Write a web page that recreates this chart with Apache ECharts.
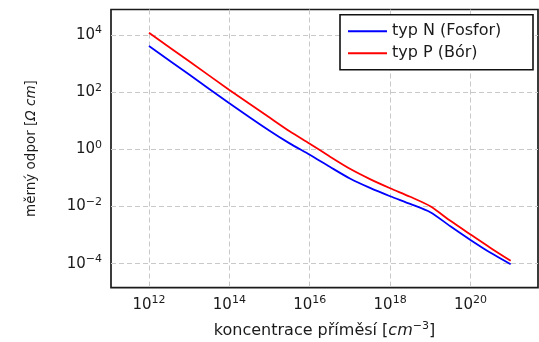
<!DOCTYPE html>
<html>
<head>
<meta charset="utf-8">
<script src="https://cdn.jsdelivr.net/npm/echarts@6/dist/echarts.min.js"></script>
<style>
html,body{margin:0;padding:0;background:#fff;}
#chart{width:539px;height:342px;}
</style>
</head>
<body>
<div id="chart"></div>
<script>
// Doping concentration [cm^-3]
var concentration = [1e12, 1e13, 1e14, 1e15, 3.16e15, 1e16, 3.16e16, 1e17, 3.16e17, 1e18, 3.16e18, 1e19, 3.16e19, 1e20, 3.16e20, 1e21];
// Resistivity [Ohm cm]
var rhoN = [4121, 412, 41.2, 4.47, 1.62, 0.646, 0.245, 0.0955, 0.0447, 0.0229, 0.0123, 0.00631, 0.00204, 0.000676, 0.00024, 0.0000955];
var rhoP = [12020, 1202, 120, 12.9, 4.27, 1.58, 0.562, 0.209, 0.0912, 0.0437, 0.0219, 0.0102, 0.00316, 0.00105, 0.000355, 0.000126];
var seriesNames = ['typ N (Fosfor)', 'typ P (Bór)'];
var xTickExponents = [12, 14, 16, 18, 20];
var yTickExponents = [-4, -2, 0, 2, 4];

function toPairs(xs, ys) {
  return xs.map(function (x, i) { return [Math.log10(x), Math.log10(ys[i])]; });
}
function powLabel(v) {
  var e = String(Math.round(v)).replace('-', '\u2212');
  return '{b|10}{s|' + e + '}';
}
var FONT = 'DejaVu Sans';
var TXT = '#1a1a1a';
var richTick = {
  b: { fontSize: 15, lineHeight: 20, fontFamily: FONT, color: TXT },
  s: { fontSize: 11, lineHeight: 12, verticalAlign: 'top', fontFamily: FONT, color: TXT }
};
var gridLine = { show: true, lineStyle: { color: '#c8c8c8', width: 1, type: [5, 3] } };

var chart = echarts.init(document.getElementById('chart'), null, { renderer: 'canvas' });
chart.setOption({
  animation: false,
  backgroundColor: '#fff',
  grid: {
    left: 111, right: 1, top: 9.5, bottom: 54.3,
    show: true, borderColor: '#1a1a1a', borderWidth: 1.7, backgroundColor: 'transparent',
    containLabel: false, outerBoundsMode: 'none'
  },
  legend: {
    left: 340, top: 14.7, orient: 'vertical', align: 'left',
    padding: [8, 8, 8, 8], itemGap: 5, itemWidth: 39, itemHeight: 2,
    icon: 'rect',
    borderColor: '#111', borderWidth: 1.6, backgroundColor: '#fff',
    textStyle: { fontSize: 16, fontFamily: FONT, color: TXT, width: 133, lineHeight: 17 },
    data: seriesNames
  },
  xAxis: {
    type: 'value', min: 11.055, max: 21.68,
    axisLine: { show: false },
    axisTick: { show: false, customValues: xTickExponents },
    splitLine: gridLine,
    axisLabel: { customValues: xTickExponents, margin: 7, formatter: powLabel, rich: richTick },
    name: 'koncentrace příměsí [{i|cm}{s|\u22123}]',
    nameLocation: 'middle', nameGap: 33,
    nameTextStyle: {
      fontSize: 16, lineHeight: 20, fontFamily: FONT, color: TXT,
      rich: {
        i: { fontSize: 16, lineHeight: 20, fontStyle: 'italic', fontFamily: FONT, color: TXT },
        s: { fontSize: 11, lineHeight: 12, verticalAlign: 'top', fontFamily: FONT, color: TXT }
      }
    }
  },
  yAxis: {
    type: 'value', min: -4.84, max: 4.892,
    axisLine: { show: false },
    axisTick: { show: false, customValues: yTickExponents },
    splitLine: gridLine,
    axisLabel: { customValues: yTickExponents, margin: 9, formatter: powLabel, rich: richTick },
    name: 'měrný odpor [{i|Ω cm}]',
    nameLocation: 'middle', nameGap: 71, nameRotate: 90,
    nameTextStyle: {
      fontSize: 13.5, lineHeight: 18, fontFamily: FONT, color: TXT,
      rich: { i: { fontSize: 13.5, lineHeight: 18, fontStyle: 'italic', fontFamily: FONT, color: TXT } }
    }
  },
  series: [
    {
      name: seriesNames[0], type: 'line', data: toPairs(concentration, rhoN),
      smooth: 0.25, symbol: 'none', color: '#0000ff',
      lineStyle: { color: '#0000ff', width: 1.8 }
    },
    {
      name: seriesNames[1], type: 'line', data: toPairs(concentration, rhoP),
      smooth: 0.25, symbol: 'none', color: '#ff0000',
      lineStyle: { color: '#ff0000', width: 1.8 }
    }
  ]
});
</script>
</body>
</html>
